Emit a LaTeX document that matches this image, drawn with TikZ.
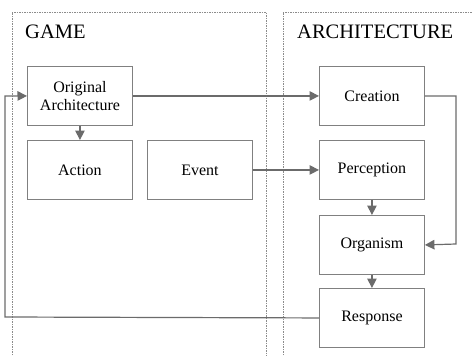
\documentclass[tikz,border=0pt]{standalone}
\usepackage{fontspec}
\setmainfont{Liberation Serif}
\usetikzlibrary{arrows.meta}
\begin{document}
\begin{tikzpicture}[x=1pt,y=-1pt,
  box/.style={draw=black!50, line width=0.9pt, minimum width=105pt, minimum height=59pt, inner sep=0pt, font=\fontsize{16}{18.5}\selectfont, align=center, anchor=north west},
  conn/.style={draw=black!58, line width=1.2pt, -{Triangle[length=9.5pt,width=9.5pt]}},
  frame/.style={draw=black!45, line width=0.6pt, dash pattern=on 1.5pt off 1pt},
  title/.style={font=\fontsize{20.5}{24}\selectfont, anchor=base west, inner sep=0pt}]
\useasboundingbox (0,0) rectangle (472,356);
% containers
\draw[frame] (12,360) -- (12,12) -- (266,12) -- (266,360);
\draw[frame] (283,360) -- (283,12) -- (476,12);
\node[title] (tgame) at (25,38) {GAME};
\node[title] (tarch) at (297,38) {ARCHITECTURE};
% boxes
\node[box] (orig) at (27,66) {Original\\Architecture};
\node[box] (action) at (27,140) {Action};
\node[box] (event) at (147,140) {Event};
\node[box] (creation) at (319,66) {Creation};
\node[box] (perception) at (319,140) {Perception};
\node[box] (organism) at (319,215) {Organism};
\node[box] (response) at (319,288) {Response};
\coordinate (c1) at (456,96);
\coordinate (c2) at (456,244);
\coordinate (r1) at (5,317);
\coordinate (r2) at (5,96);
% connectors
\draw[conn] (orig.east) -- (creation.west);
\draw[conn] (orig.south) -- (action.north);
\draw[conn] (event.east) -- (perception.west);
\draw[conn] (perception.south) -- (organism.north);
\draw[conn] (organism.south) -- (response.north);
\draw[conn] (creation.east) -- (c1) -- (c2) -- (organism.east);
\draw[conn] (response.west) -- (r1) -- (r2) -- (orig.west);
\end{tikzpicture}
\end{document}
